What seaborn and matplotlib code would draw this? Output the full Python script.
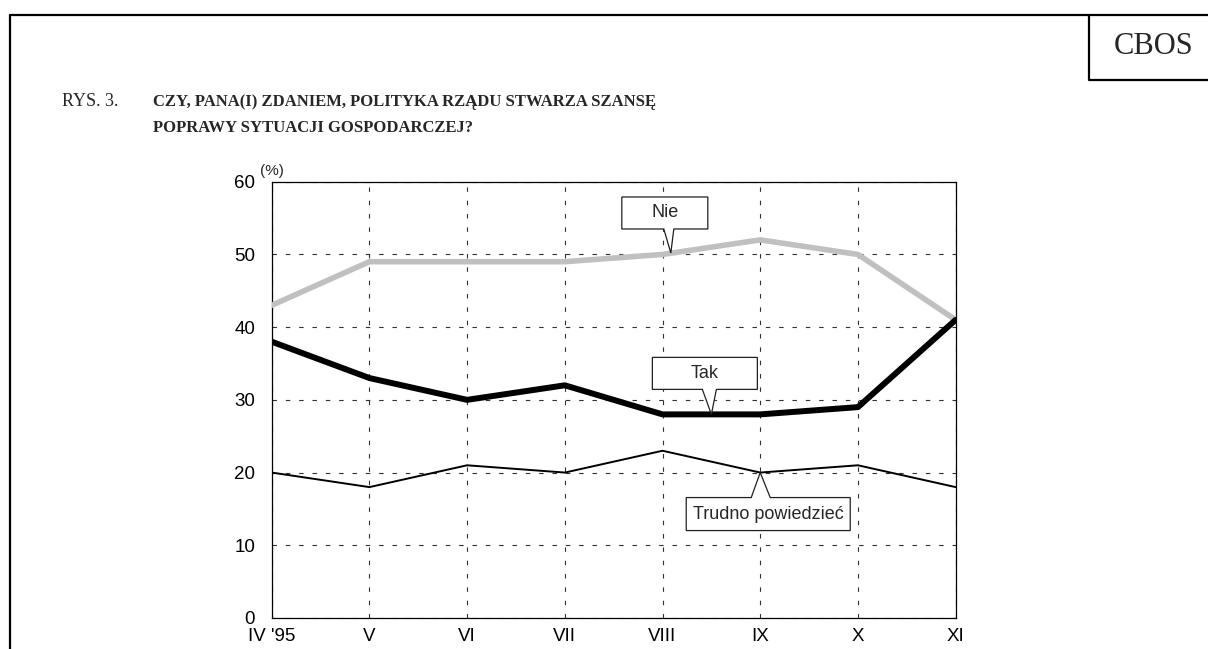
import numpy as np
import pandas as pd
import seaborn as sns
import matplotlib.pyplot as plt
from matplotlib.lines import Line2D
from matplotlib.patches import Polygon
from matplotlib.transforms import ScaledTranslation

# dane z wykresu CBOS
miesiace = ["IV '95", "V", "VI", "VII", "VIII", "IX", "X", "XI"]
nie = [43, 49, 49, 49, 50, 52, 50, 41]
tak = [38, 33, 30, 32, 28, 28, 29, 41]
trudno = [20, 18, 21, 20, 23, 20, 21, 18]

df = pd.DataFrame({"poz": np.arange(len(miesiace)), "Nie": nie, "Tak": tak,
                   "Trudno powiedzieć": trudno})

sns.set_style("white")
plt.rcParams["font.family"] = ["Liberation Sans", "DejaVu Sans"]

fig = plt.figure(figsize=(12.08, 6.49), dpi=100)
ax = fig.add_axes([0.2249, 0.0478, 0.5662, 0.6722])

sns.lineplot(data=df, x="poz", y="Nie", ax=ax, color="#c0c0c0", lw=4.0, zorder=3)
sns.lineplot(data=df, x="poz", y="Tak", ax=ax, color="black", lw=4.3, zorder=4)
sns.lineplot(data=df, x="poz", y="Trudno powiedzieć", ax=ax, color="black", lw=1.4, zorder=3)

ax.set_xlim(0, len(miesiace) - 1)
ax.set_ylim(0, 60)
ax.set_xticks(np.arange(len(miesiace)))
ax.set_xticklabels(miesiace)
ax.set_yticks(range(0, 61, 10))
ax.set_xlabel("")
ax.set_ylabel("")
ax.tick_params(axis="both", length=0, labelsize=13.5, colors="black")
ax.tick_params(axis="x", pad=7)
ax.tick_params(axis="y", pad=12)
ax.grid(True, color="#303030", lw=0.8, linestyle=(0, (4, 8)))
for s in ax.spines.values():
    s.set_visible(True)
    s.set_color("black")
    s.set_linewidth(0.9)

ax.text(-0.017, 1.025, "(%)", transform=ax.transAxes, fontsize=11,
        ha="left", va="center")


# dymki z podpisami serii (offsety w pikselach od punktu na linii)
def dymek(x, y, tekst, lewo, prawo, gora, dol, w1, w2):
    tr = fig.dpi_scale_trans + ScaledTranslation(x, y, ax.transData)
    d = 1 / fig.dpi
    if dol > 0:
        pkt = [(0, 0), (w2, dol), (prawo, dol), (prawo, gora), (lewo, gora),
               (lewo, dol), (w1, dol)]
    else:
        pkt = [(0, 0), (w2, gora), (prawo, gora), (prawo, dol), (lewo, dol),
               (lewo, gora), (w1, gora)]
    pkt = [(a * d, b * d) for a, b in pkt]
    ax.add_patch(Polygon(pkt, closed=True, transform=tr, fc="white", ec="#202020",
                         lw=0.9, zorder=6, clip_on=False))
    ax.text((lewo + prawo) / 2 * d, (gora + dol) / 2 * d, tekst, transform=tr,
            ha="center", va="center", fontsize=13, zorder=7)


dymek(4.0 + 8.3 / 97.7, 50.2, "Nie", -49, 37, 56, 24, -7, 3)
dymek(4.5, 28, "Tak", -59, 46, 57, 25, -9, 5)
dymek(5, 20, "Trudno powiedzieć", -74, 90, -25, -58, -9, 10)

# ramka strony i pole CBOS
fig.add_artist(Line2D([10 / 1208, 1], [1 - 15 / 649] * 2, transform=fig.transFigure,
                      color="black", lw=1.6))
fig.add_artist(Line2D([10 / 1208] * 2, [0, 1 - 15 / 649], transform=fig.transFigure,
                      color="black", lw=1.6))
fig.add_artist(Line2D([1089 / 1208, 1089 / 1208, 1], [1 - 15 / 649, 1 - 80 / 649, 1 - 80 / 649],
                      transform=fig.transFigure, color="black", lw=1.6))
fig.text(1154 / 1208, 1 - 46 / 649, "CBOS", family="Liberation Serif", fontsize=22,
         ha="center", va="center")

fig.text(62 / 1208, 1 - 106 / 649, "RYS. 3.", family="Liberation Serif", fontsize=13,
         ha="left", va="baseline")
fig.text(153 / 1208, 1 - 106 / 649, "CZY, PANA(I) ZDANIEM, POLITYKA RZĄDU STWARZA SZANSĘ",
         family="Liberation Serif", fontsize=12, weight="bold", ha="left", va="baseline")
fig.text(153 / 1208, 1 - 132 / 649, "POPRAWY SYTUACJI GOSPODARCZEJ?",
         family="Liberation Serif", fontsize=12, weight="bold", ha="left", va="baseline")

fig.savefig("out.png", dpi=100, facecolor="white")
